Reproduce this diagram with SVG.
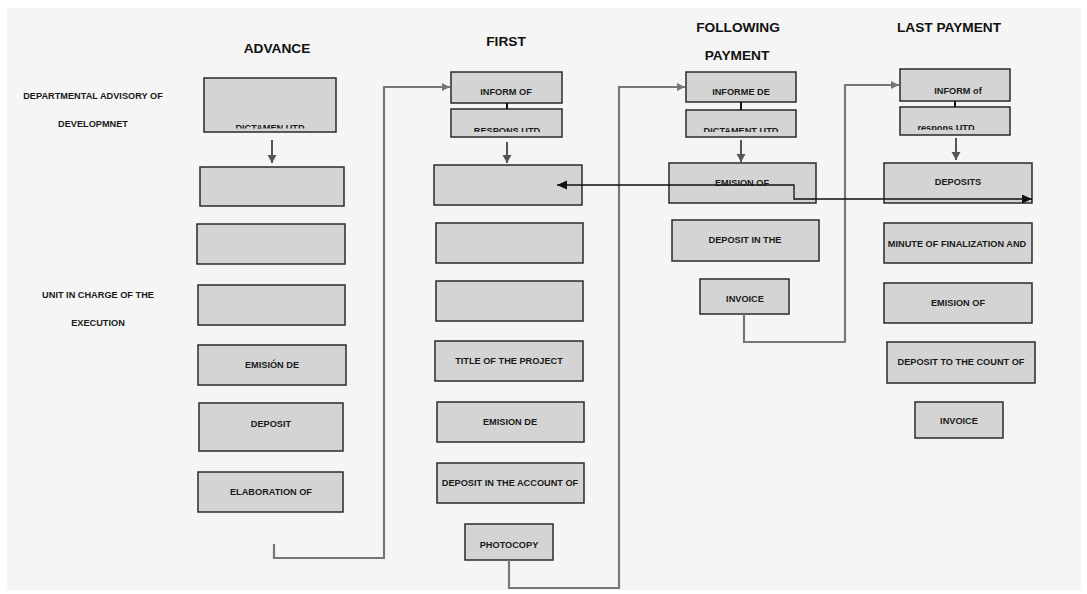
<svg xmlns="http://www.w3.org/2000/svg" width="1087" height="594" viewBox="0 0 1087 594">
<style>
.bx{fill:#d4d4d4;stroke:#2a2a2a;stroke-width:1.5}
.t{font-family:"Liberation Sans",Arial,sans-serif;font-weight:bold;font-size:9.2px;fill:#1a1a1a;text-anchor:middle}
.h{font-family:"Liberation Sans",Arial,sans-serif;font-weight:bold;font-size:13.7px;fill:#111;text-anchor:middle}
.gc{fill:none;stroke:#777;stroke-width:2.2}
.dn{fill:none;stroke:#555;stroke-width:2}
.bl{fill:none;stroke:#111;stroke-width:1.3}
.lk{fill:none;stroke:#111;stroke-width:2}
</style>
<defs>
<marker id="ag" markerWidth="10" markerHeight="10" refX="8" refY="4" orient="auto" markerUnits="userSpaceOnUse"><path d="M0,0 L8,4 L0,8 Z" fill="#777"/></marker>
<marker id="ad" markerWidth="10" markerHeight="10" refX="8" refY="4.5" orient="auto" markerUnits="userSpaceOnUse"><path d="M0,0 L8,4.5 L0,9 Z" fill="#555"/></marker>
<marker id="ab" markerWidth="12" markerHeight="10" refX="10" refY="4.5" orient="auto-start-reverse" markerUnits="userSpaceOnUse"><path d="M0,0 L10,4.5 L0,9 Z" fill="#111"/></marker>
<clipPath id="c1"><rect x="204" y="78" width="132" height="50.5"/></clipPath>
<clipPath id="c2"><rect x="451" y="109" width="111" height="23"/></clipPath>
<clipPath id="c3"><rect x="686" y="110" width="110" height="22"/></clipPath>
<clipPath id="c4"><rect x="900" y="107" width="110" height="23"/></clipPath>
</defs>
<rect x="0" y="0" width="1087" height="594" fill="#ffffff"/>
<rect x="7" y="8" width="1074" height="582" fill="#f5f5f5"/>

<g id="headers">
<text class="h" x="277" y="53">ADVANCE</text>
<text class="h" x="506" y="46">FIRST</text>
<text class="h" x="738" y="32">FOLLOWING</text>
<text class="h" x="737" y="60">PAYMENT</text>
<text class="h" x="949" y="32">LAST PAYMENT</text>
<text class="t" x="93" y="99">DEPARTMENTAL ADVISORY OF</text>
<text class="t" x="93" y="127">DEVELOPMNET</text>
<text class="t" x="98" y="298">UNIT IN CHARGE OF THE</text>
<text class="t" x="98" y="326">EXECUTION</text>
</g>

<g id="advance">
<g id="a1"><rect class="bx" x="204" y="78" width="132" height="54"/><text class="t" x="270" y="131" clip-path="url(#c1)">DICTAMEN UTD</text></g>
<g id="a2"><rect class="bx" x="200" y="167" width="144" height="39"/></g>
<g id="a3"><rect class="bx" x="197" y="224" width="148" height="40"/></g>
<g id="a4"><rect class="bx" x="198" y="285" width="147" height="40"/></g>
<g id="a5"><rect class="bx" x="198" y="345" width="148" height="40"/><text class="t" x="272" y="368">EMISIÓN DE</text></g>
<g id="a6"><rect class="bx" x="199" y="403" width="144" height="48"/><text class="t" x="271" y="427">DEPOSIT</text></g>
<g id="a7"><rect class="bx" x="198" y="472" width="145" height="40"/><text class="t" x="271" y="495">ELABORATION OF</text></g>
</g>

<g id="first">
<g id="f1"><rect class="bx" x="451" y="72" width="111" height="31"/><text class="t" x="506" y="95">INFORM OF</text></g>
<g id="f2"><rect class="bx" x="451" y="109" width="111" height="28"/><text class="t" x="507" y="133.5" clip-path="url(#c2)">RESPONS UTD</text></g>
<g id="f3"><rect class="bx" x="434" y="165" width="148" height="40"/></g>
<g id="f4"><rect class="bx" x="436" y="223" width="147" height="40"/></g>
<g id="f5"><rect class="bx" x="436" y="281" width="147" height="40"/></g>
<g id="f6"><rect class="bx" x="435" y="341" width="148" height="40"/><text class="t" x="509" y="364">TITLE OF THE PROJECT</text></g>
<g id="f7"><rect class="bx" x="437" y="402" width="147" height="40"/><text class="t" x="510" y="425">EMISION DE</text></g>
<g id="f8"><rect class="bx" x="437" y="463" width="147" height="40"/><text class="t" x="510" y="486">DEPOSIT IN THE ACCOUNT OF</text></g>
<g id="f9"><rect class="bx" x="465" y="524" width="88" height="36"/><text class="t" x="509" y="548">PHOTOCOPY</text></g>
</g>

<g id="following">
<g id="p1"><rect class="bx" x="686" y="72" width="110" height="30"/><text class="t" x="741" y="95">INFORME DE</text></g>
<g id="p2"><rect class="bx" x="686" y="110" width="110" height="27"/><text class="t" x="741" y="133.5" clip-path="url(#c3)">DICTAMENT UTD</text></g>
<g id="p3"><rect class="bx" x="669" y="163" width="147" height="40"/><text class="t" x="742" y="185.5">EMISION OF</text></g>
<g id="p4"><rect class="bx" x="672" y="220" width="147" height="41"/><text class="t" x="745" y="243">DEPOSIT IN THE</text></g>
<g id="p5"><rect class="bx" x="700" y="279" width="89" height="35"/><text class="t" x="745" y="302">INVOICE</text></g>
</g>

<g id="last">
<g id="l1"><rect class="bx" x="900" y="69" width="110" height="32"/><text class="t" x="958" y="94">INFORM of</text></g>
<g id="l2"><rect class="bx" x="900" y="107" width="110" height="28"/><text class="t" x="946" y="131" clip-path="url(#c4)">respons UTD</text></g>
<g id="l3"><rect class="bx" x="884" y="163" width="148" height="40"/><text class="t" x="958" y="185">DEPOSITS</text></g>
<g id="l4"><rect class="bx" x="884" y="223" width="148" height="40"/><text class="t" x="957" y="247">MINUTE OF FINALIZATION AND</text></g>
<g id="l5"><rect class="bx" x="884" y="283" width="148" height="40"/><text class="t" x="958" y="306">EMISION OF</text></g>
<g id="l6"><rect class="bx" x="887" y="342" width="148" height="41"/><text class="t" x="961" y="365">DEPOSIT TO THE COUNT OF</text></g>
<g id="l7"><rect class="bx" x="915" y="402" width="88" height="36"/><text class="t" x="959" y="424">INVOICE</text></g>
</g>

<g id="connectors">
<path class="lk" d="M507 103V109"/>
<path class="lk" d="M741 102V110"/>
<path class="lk" d="M955 101V107"/>
<path class="dn" d="M272 140V163" marker-end="url(#ad)"/>
<path class="dn" d="M507 142V163" marker-end="url(#ad)"/>
<path class="dn" d="M741 140V162" marker-end="url(#ad)"/>
<path class="dn" d="M956 138V160" marker-end="url(#ad)"/>
<path class="gc" d="M274 544V558H384V87H450" marker-end="url(#ag)"/>
<path class="gc" d="M509 560V588H619V87H685" marker-end="url(#ag)"/>
<path class="gc" d="M744 314V342H845V85H899" marker-end="url(#ag)"/>
<path class="bl" d="M557 185H794V199H1032" marker-start="url(#ab)" marker-end="url(#ab)"/>
</g>
</svg>
